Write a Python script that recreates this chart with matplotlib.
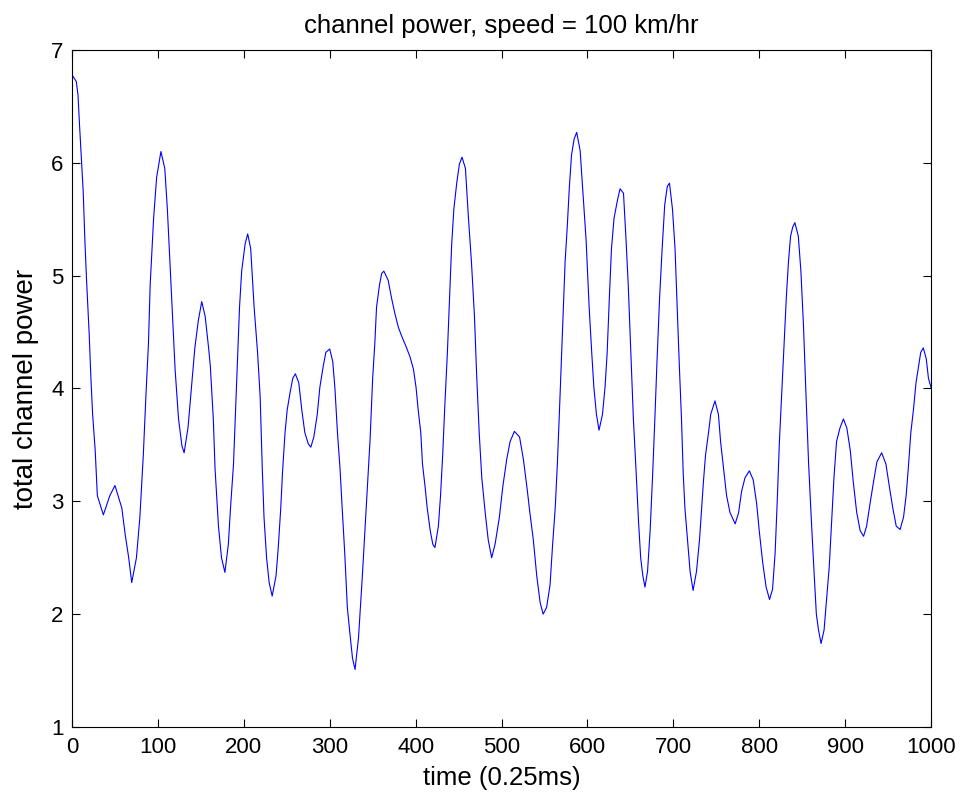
import matplotlib
matplotlib.use("Agg")
import matplotlib.pyplot as plt

plt.rcParams['font.family'] = ['Liberation Sans', 'DejaVu Sans']

# values (time index, total channel power)
time_idx = [
    0, 5, 7, 8.5, 11, 13, 15, 17, 20, 22, 24, 27, 29.5, 36.5, 44, 50, 58, 62, 66, 69.5,
    75, 79, 83, 86, 89, 91, 95, 98.5, 103.5, 108, 111, 114, 117, 120, 124,
    128, 130.5, 135, 139, 143, 147, 151, 155, 159, 161, 164.5, 166.5, 170.5,
    174, 178, 182, 184.5, 188, 190, 192.5, 195, 197.5, 201.5, 204.5, 208, 212,
    216, 219, 221.5, 223.5, 226.5, 229.5, 233, 237.5, 240, 243, 245, 248, 250.5,
    254, 257, 260, 264, 267.5, 271, 275, 278, 281.5, 285.5, 288.5, 292.5, 295.5,
    300, 303.5, 306, 309, 312, 314.5, 317.5, 320.5, 323.5, 326.5, 329.5, 333.5,
    338, 341, 344, 347, 350, 352.5, 354.5, 358, 360.5, 363, 368, 372, 376, 380,
    384, 389.5, 393.5, 397.5, 400.5, 403, 406, 408, 411, 413.5, 417, 420, 422.5,
    426.5, 429, 431.5, 434, 437, 439.5, 442, 444.5, 448, 451, 454, 458, 461.5,
    465, 468.5, 471, 474, 477, 481, 484.5, 488.5, 492.5, 497.5, 501.5, 506, 510,
    515, 521, 525.5, 529.5, 533, 537, 541, 545, 548.5, 552.5, 556.5, 559.5, 562.5,
    565, 567.5, 570, 572, 574, 576.5, 579, 581.5, 584.5, 587.5, 591.5, 595, 598.5,
    602, 605, 607.5, 610.5, 613.5, 617.5, 620.5, 623, 625.5, 628, 631, 635, 638,
    642, 645, 647.5, 650.5, 653.5, 656.5, 659.5, 662, 664.5, 667, 670, 673, 676,
    678.5, 681, 684, 687, 690, 693, 695.5, 699, 702, 704.5, 707, 709.5, 711.5,
    713.5, 716.5, 719.5, 723, 727, 730.5, 733, 735, 737.5, 741, 743.5, 748.5,
    752.5, 755, 758.5, 762, 766, 772, 776, 779.5, 783.5, 788.5, 793, 797, 800,
    804, 808, 812, 815.5, 818.5, 821, 823.5, 826, 829, 831.5, 834, 836.5, 839,
    841.5, 845.5, 848.5, 851.5, 854.5, 857.5, 860.5, 863.5, 866.5, 869, 872,
    875.5, 878.5, 881.5, 884.5, 887, 890, 894, 898, 902, 906, 909.5, 913.5, 917.5,
    921.5, 925, 929, 933, 937, 942.5, 947.5, 951.5, 955.5, 959.5, 964, 968, 971,
    973.5, 976.5, 979.5, 982.5, 985.5, 988, 991, 994.5, 997, 1000,
]
power = [
    6.78, 6.72, 6.60, 6.37, 6.03, 5.75, 5.31, 4.95, 4.48, 4.09, 3.77, 3.45, 3.05, 2.88, 3.05, 3.14, 2.94, 2.70, 2.50, 2.28,
    2.50, 2.86, 3.41, 3.93, 4.40, 4.92, 5.51, 5.87, 6.10, 5.95, 5.59, 5.12, 4.64, 4.17, 3.73,
    3.49, 3.43, 3.65, 4.01, 4.36, 4.60, 4.77, 4.64, 4.36, 4.20, 3.73, 3.29, 2.78,
    2.50, 2.37, 2.62, 2.94, 3.33, 3.73, 4.24, 4.72, 5.04, 5.28, 5.37, 5.24, 4.72,
    4.32, 3.93, 3.29, 2.86, 2.50, 2.28, 2.16, 2.34, 2.58, 2.94, 3.25, 3.61, 3.81,
    3.97, 4.09, 4.13, 4.05, 3.81, 3.61, 3.51, 3.48, 3.57, 3.77, 4.01, 4.20, 4.32,
    4.35, 4.24, 4.01, 3.61, 3.29, 2.94, 2.54, 2.06, 1.83, 1.61, 1.51, 1.79,
    2.34, 2.74, 3.13, 3.55, 4.09, 4.40, 4.72, 4.92, 5.02, 5.04, 4.96, 4.80, 4.66, 4.54,
    4.46, 4.36, 4.28, 4.17, 4.01, 3.81, 3.61, 3.33, 3.13, 2.94, 2.74, 2.62, 2.59,
    2.78, 3.05, 3.41, 3.85, 4.32, 4.80, 5.28, 5.59, 5.83, 5.99, 6.05, 5.95, 5.51,
    5.12, 4.64, 4.13, 3.61, 3.21, 2.90, 2.66, 2.50, 2.62, 2.86, 3.13, 3.37, 3.53,
    3.62, 3.57, 3.37, 3.13, 2.90, 2.66, 2.34, 2.10, 2.00, 2.06, 2.26, 2.62, 2.94,
    3.33, 3.81, 4.32, 4.72, 5.12, 5.43, 5.79, 6.07, 6.21, 6.27, 6.11, 5.71, 5.31,
    4.72, 4.32, 4.01, 3.77, 3.63, 3.77, 4.01, 4.32, 4.80, 5.24, 5.51, 5.67, 5.77,
    5.73, 5.31, 4.92, 4.32, 3.73, 3.29, 2.82, 2.50, 2.34, 2.24, 2.38, 2.74, 3.25,
    3.73, 4.24, 4.80, 5.24, 5.63, 5.79, 5.82, 5.59, 5.24, 4.72, 4.20, 3.73, 3.25,
    2.94, 2.66, 2.38, 2.21, 2.38, 2.66, 2.94, 3.17, 3.41, 3.61, 3.77, 3.89,
    3.77, 3.53, 3.29, 3.05, 2.90, 2.80, 2.90, 3.09, 3.21, 3.27, 3.19, 2.98, 2.74,
    2.46, 2.24, 2.13, 2.22, 2.54, 3.01, 3.53, 3.93, 4.40, 4.80, 5.12, 5.35, 5.43,
    5.47, 5.35, 5.04, 4.56, 3.93, 3.33, 2.86, 2.42, 2.00, 1.86, 1.74,
    1.86, 2.14, 2.42, 2.86, 3.21, 3.53, 3.65, 3.73, 3.65, 3.45, 3.17, 2.90, 2.74,
    2.69, 2.78, 2.98, 3.17, 3.35, 3.43, 3.33, 3.13, 2.94, 2.78, 2.75, 2.86, 3.05,
    3.29, 3.61, 3.81, 4.05, 4.20, 4.32, 4.36, 4.26, 4.09, 4.01,
]

x_ticks = list(range(0, 1001, 100))
y_ticks = [1, 2, 3, 4, 5, 6, 7]

fig = plt.figure(figsize=(9.64, 8.01), dpi=100)
ax = fig.add_axes([0.0747, 0.0924, 0.8911, 0.8452])

ax.plot(time_idx, power, color=(0, 0, 1), linewidth=0.8)

ax.set_xlim(0, 1000)
ax.set_ylim(1, 7)
ax.set_xticks(x_ticks)
ax.set_yticks(y_ticks)
ax.tick_params(direction='in', length=6, width=0.8, top=True, right=True,
               labelsize=16)
ax.tick_params(axis='x', pad=7)
ax.tick_params(axis='y', pad=6)
for s in ax.spines.values():
    s.set_linewidth(0.8)

ax.set_title("channel power, speed = 100 km/hr", fontsize=18.5, pad=12)
ax.set_xlabel("time (0.25ms)", fontsize=18.5, labelpad=6)
ax.set_ylabel("total channel power", fontsize=20, labelpad=9)

fig.savefig("out.png", dpi=100)
